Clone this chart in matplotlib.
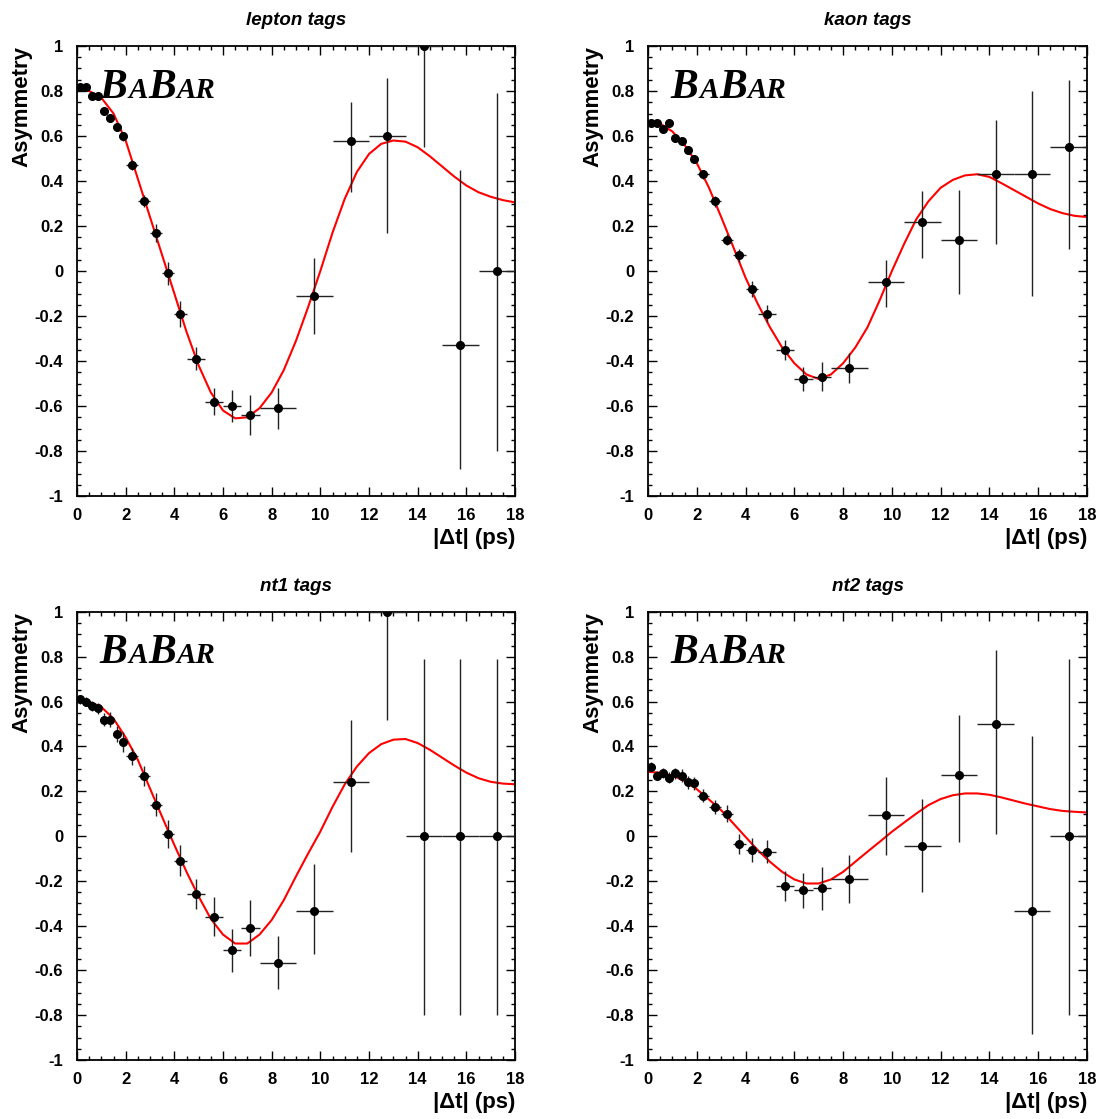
"""BaBar time-dependent mixing asymmetry, four tagging categories."""
import matplotlib
matplotlib.use("Agg")
import matplotlib.pyplot as plt
from matplotlib.ticker import MultipleLocator, FuncFormatter
from matplotlib.offsetbox import TextArea, HPacker, AnnotationBbox

plt.rcParams["font.family"] = ["Liberation Sans", "DejaVu Sans"]
plt.rcParams["axes.unicode_minus"] = False

# ── data ────────────────────────────────────────────────────────────────────
# bin centres and half widths in |dt| (ps)
dt_bins = [0.125, 0.375, 0.625, 0.875, 1.125, 1.375, 1.625, 1.875,
           2.25, 2.75, 3.25, 3.75, 4.25,
           4.875, 5.625, 6.375, 7.125,
           8.25, 9.75, 11.25, 12.75, 14.25, 15.75, 17.25]
dt_half = [0.125] * 8 + [0.25] * 5 + [0.375] * 4 + [0.75] * 7

lepton_asym = [0.82, 0.82, 0.78, 0.78, 0.71, 0.68, 0.64, 0.60,
               0.47, 0.31, 0.17, -0.01, -0.19,
               -0.39, -0.58, -0.60, -0.64,
               -0.61, -0.11, 0.58, 0.60, 1.00, -0.33, 0.00]
lepton_lo = [0.010, 0.010, 0.012, 0.012, 0.015, 0.018, 0.018, 0.020,
             0.022, 0.026, 0.040, 0.050, 0.058,
             0.052, 0.060, 0.073, 0.090,
             0.090, 0.17, 0.23, 0.43, 0.45, 0.55, 0.80]
lepton_hi = [0.010, 0.010, 0.012, 0.012, 0.015, 0.018, 0.018, 0.020,
             0.022, 0.026, 0.040, 0.050, 0.058,
             0.052, 0.060, 0.073, 0.090,
             0.090, 0.17, 0.17, 0.26, 0.45, 0.78, 0.79]

kaon_asym = [0.66, 0.66, 0.63, 0.66, 0.59, 0.58, 0.54, 0.50,
             0.43, 0.31, 0.14, 0.07, -0.08,
             -0.19, -0.35, -0.48, -0.47,
             -0.43, -0.05, 0.22, 0.14, 0.43, 0.43, 0.55]
kaon_lo = [0.010, 0.010, 0.010, 0.010, 0.012, 0.012, 0.014, 0.015,
           0.020, 0.025, 0.025, 0.030, 0.035,
           0.037, 0.045, 0.052, 0.065,
           0.067, 0.11, 0.16, 0.24, 0.31, 0.54, 0.45]
kaon_hi = [0.010, 0.010, 0.010, 0.010, 0.012, 0.012, 0.014, 0.015,
           0.020, 0.025, 0.025, 0.030, 0.035,
           0.037, 0.045, 0.052, 0.065,
           0.067, 0.10, 0.135, 0.22, 0.24, 0.37, 0.30]

nt1_asym = [0.61, 0.60, 0.58, 0.57, 0.52, 0.52, 0.455, 0.42,
            0.355, 0.267, 0.14, 0.01, -0.11,
            -0.26, -0.36, -0.51, -0.41,
            -0.565, -0.333, 0.24, 1.00, 0.00, 0.00, 0.00]
nt1_lo = [0.020, 0.020, 0.022, 0.025, 0.030, 0.033, 0.035, 0.043,
          0.036, 0.045, 0.050, 0.062, 0.070,
          0.068, 0.087, 0.095, 0.125,
          0.117, 0.195, 0.31, 0.48, 0.80, 0.80, 0.80]
nt1_hi = [0.020, 0.020, 0.022, 0.025, 0.030, 0.033, 0.035, 0.043,
          0.036, 0.045, 0.050, 0.062, 0.070,
          0.068, 0.087, 0.095, 0.125,
          0.117, 0.21, 0.28, 0.0, 0.79, 0.79, 0.79]

nt2_asym = [0.31, 0.27, 0.28, 0.26, 0.28, 0.27, 0.24, 0.235,
            0.18, 0.13, 0.10, -0.035, -0.064,
            -0.07, -0.223, -0.243, -0.234,
            -0.192, 0.093, -0.044, 0.272, 0.50, -0.333, 0.00]
nt2_lo = [0.020, 0.020, 0.022, 0.025, 0.025, 0.027, 0.028, 0.030,
          0.028, 0.032, 0.039, 0.045, 0.053,
          0.052, 0.068, 0.078, 0.097,
          0.106, 0.18, 0.205, 0.30, 0.49, 0.55, 0.80]
nt2_hi = [0.020, 0.020, 0.022, 0.025, 0.025, 0.027, 0.028, 0.030,
          0.028, 0.032, 0.039, 0.045, 0.053,
          0.052, 0.068, 0.078, 0.097,
          0.106, 0.17, 0.21, 0.27, 0.33, 0.78, 0.79]

# fit curves, sampled every 0.5 ps
fit_t = [0.0, 0.5, 1.0, 1.5, 2.0, 2.5, 3.0, 3.5, 4.0, 4.5, 5.0, 5.5, 6.0,
         6.5, 7.0, 7.5, 8.0, 8.5, 9.0, 9.5, 10.0, 10.5, 11.0, 11.5, 12.0,
         12.5, 13.0, 13.5, 14.0, 14.5, 15.0, 15.5, 16.0, 16.5, 17.0, 17.5, 18.0]
lepton_fit = [0.816, 0.80, 0.77, 0.70, 0.58, 0.41, 0.24, 0.07, -0.10, -0.27,
              -0.42, -0.54, -0.62, -0.655, -0.65, -0.61, -0.54, -0.44, -0.31,
              -0.16, 0.0, 0.17, 0.32, 0.44, 0.52, 0.565, 0.58, 0.575, 0.55,
              0.51, 0.465, 0.42, 0.38, 0.35, 0.33, 0.315, 0.305]
kaon_fit = [0.665, 0.655, 0.62, 0.56, 0.48, 0.37, 0.24, 0.106, -0.03, -0.146,
            -0.25, -0.34, -0.41, -0.46, -0.48, -0.46, -0.41, -0.34, -0.25,
            -0.13, 0.0, 0.12, 0.23, 0.31, 0.37, 0.405, 0.425, 0.43, 0.418,
            0.39, 0.36, 0.33, 0.30, 0.275, 0.257, 0.245, 0.24]
nt1_fit = [0.613, 0.60, 0.576, 0.524, 0.44, 0.34, 0.212, 0.085, -0.04, -0.16,
           -0.27, -0.37, -0.44, -0.48, -0.48, -0.44, -0.375, -0.286, -0.18,
           -0.078, 0.02, 0.13, 0.23, 0.31, 0.37, 0.41, 0.43, 0.433, 0.415,
           0.385, 0.35, 0.315, 0.283, 0.258, 0.242, 0.234, 0.231]
nt2_fit = [0.286, 0.283, 0.27, 0.246, 0.209, 0.163, 0.115, 0.056, -0.004,
           -0.063, -0.115, -0.16, -0.194, -0.212, -0.212, -0.194, -0.16,
           -0.115, -0.07, -0.026, 0.019, 0.06, 0.10, 0.138, 0.165, 0.182,
           0.19, 0.19, 0.184, 0.172, 0.158, 0.144, 0.132, 0.12, 0.112, 0.108,
           0.105]

panels = [
    ("lepton tags", lepton_asym, lepton_lo, lepton_hi, lepton_fit),
    ("kaon tags", kaon_asym, kaon_lo, kaon_hi, kaon_fit),
    ("nt1 tags", nt1_asym, nt1_lo, nt1_hi, nt1_fit),
    ("nt2 tags", nt2_asym, nt2_lo, nt2_hi, nt2_fit),
]


def tick_fmt(v, _pos):
    if abs(v) < 1e-9:
        return "0"
    if abs(abs(v) - 1) < 1e-9 or abs(v) >= 2:
        return f"{v:.0f}"
    return f"{v:.1f}"


# ── figure ──────────────────────────────────────────────────────────────────
W, H = 1102, 1119
fig = plt.figure(figsize=(W / 100, H / 100), dpi=100)
boxes = [(77, 46, 515, 496), (648, 46, 1087, 496),
         (77, 612, 515, 1060), (648, 612, 1087, 1060)]

logo_big = dict(family="Liberation Serif", style="italic", weight="bold", size=30)
logo_small = dict(family="Liberation Serif", style="italic", weight="bold", size=21)

for (title, asym, lo, hi, fit), (x0, y0, x1, y1) in zip(panels, boxes):
    ax = fig.add_axes([x0 / W, 1 - y1 / H, (x1 - x0) / W, (y1 - y0) / H])
    ax.plot(fit_t, fit, color="red", lw=1.5, zorder=2)
    ax.errorbar(dt_bins, asym, yerr=[lo, hi], xerr=dt_half, fmt="o",
                color="black", ms=5.5, ecolor="#222222", elinewidth=1.0,
                capsize=0, zorder=3)
    ax.set_xlim(0, 18)
    ax.set_ylim(-1, 1)
    ax.xaxis.set_major_locator(MultipleLocator(2))
    ax.xaxis.set_minor_locator(MultipleLocator(0.5))
    ax.yaxis.set_major_locator(MultipleLocator(0.2))
    ax.yaxis.set_minor_locator(MultipleLocator(0.05))
    ax.xaxis.set_major_formatter(FuncFormatter(tick_fmt))
    ax.yaxis.set_major_formatter(FuncFormatter(tick_fmt))
    ax.tick_params(which="both", direction="in", top=True, right=True,
                   labelsize=12, width=1.0)
    ax.tick_params(which="major", length=6.5)
    ax.tick_params(which="minor", length=3.2)
    ax.tick_params(axis="y", which="major", pad=10)
    ax.tick_params(axis="x", which="major", pad=8.5)
    for lab in ax.get_xticklabels() + ax.get_yticklabels():
        lab.set_fontweight("bold")
    for sp in ax.spines.values():
        sp.set_linewidth(1.3)
    ax.set_title(title, fontsize=13.5, fontweight="bold", fontstyle="italic",
                 pad=15)
    ax.set_ylabel("Asymmetry", fontsize=16, fontweight="bold", loc="top",
                  labelpad=1.5)
    ax.set_xlabel("|\u0394t| (ps)", fontsize=16, fontweight="bold",
                  loc="right", labelpad=4)

    letters = [TextArea("B", textprops=logo_big), TextArea("A", textprops=logo_small),
               TextArea("B", textprops=logo_big), TextArea("AR", textprops=logo_small)]
    logo = HPacker(children=letters, align="baseline", pad=0, sep=0.5)
    ab = AnnotationBbox(logo, (0.052, 0.95), xycoords="axes fraction",
                        box_alignment=(0, 1), frameon=False, pad=0)
    ax.add_artist(ab)

fig.savefig("out.png", dpi=100)
